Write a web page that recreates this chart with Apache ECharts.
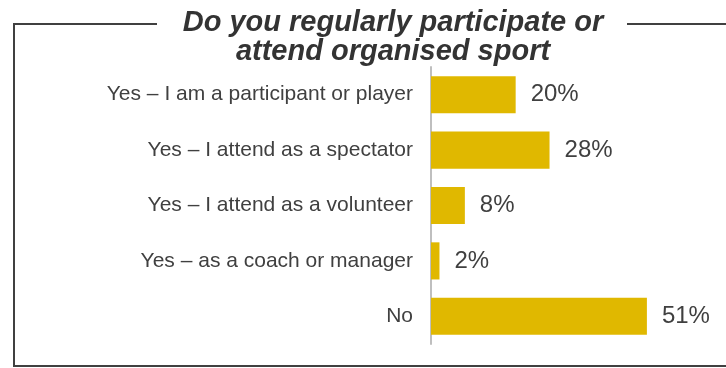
<!DOCTYPE html>
<html>
<head>
<meta charset="utf-8">
<script src="https://cdn.jsdelivr.net/npm/echarts@6/dist/echarts.min.js"></script>
<style>
html,body{margin:0;padding:0;background:#fff;}
#chart{width:726px;height:368px;}
</style>
</head>
<body>
<div id="chart"></div>
<script>
const titleLines = ['Do you regularly participate or', 'attend organised sport'];
const categories = [
  'Yes \u2013 I am a participant or player',
  'Yes \u2013 I attend as a spectator',
  'Yes \u2013 I attend as a volunteer',
  'Yes \u2013 as a coach or manager',
  'No'
];
const values = [20, 28, 8, 2, 51];

const chart = echarts.init(document.getElementById('chart'));
const textColor = '#404040';
chart.setOption({
  animation: false,
  backgroundColor: '#fff',
  textStyle: { fontFamily: 'Liberation Sans, Arial, sans-serif' },
  graphic: [
    { type: 'polyline', shape: { points: [[157, 24], [14, 24], [14, 366], [740, 366]] },
      style: { stroke: '#404040', lineWidth: 2, fill: null } },
    { type: 'line', shape: { x1: 627, y1: 24, x2: 740, y2: 24 },
      style: { stroke: '#404040', lineWidth: 2 } },
    { type: 'text', x: 393, y: 37,
      style: { text: titleLines.join('\n'), align: 'center', verticalAlign: 'middle',
        font: 'italic bold 29px "Liberation Sans", Arial, sans-serif', lineHeight: 29, fill: '#333' } }
  ],
  grid: { left: 431, top: 67, height: 277, width: 254 },
  xAxis: { type: 'value', min: 0, max: 60, show: false, splitLine: { show: false } },
  yAxis: {
    type: 'category', data: categories, inverse: true,
    axisLine: { show: true, lineStyle: { color: '#BFBFBF', width: 2 } },
    axisTick: { show: false },
    axisLabel: { fontSize: 21, color: textColor, margin: 18 }
  },
  series: [{
    type: 'bar', data: values, barCategoryGap: '33%',
    itemStyle: { color: '#E0B800' },
    label: { show: true, position: 'right', distance: 15, fontSize: 24, color: textColor, formatter: '{c}%' }
  }]
});
</script>
</body>
</html>
